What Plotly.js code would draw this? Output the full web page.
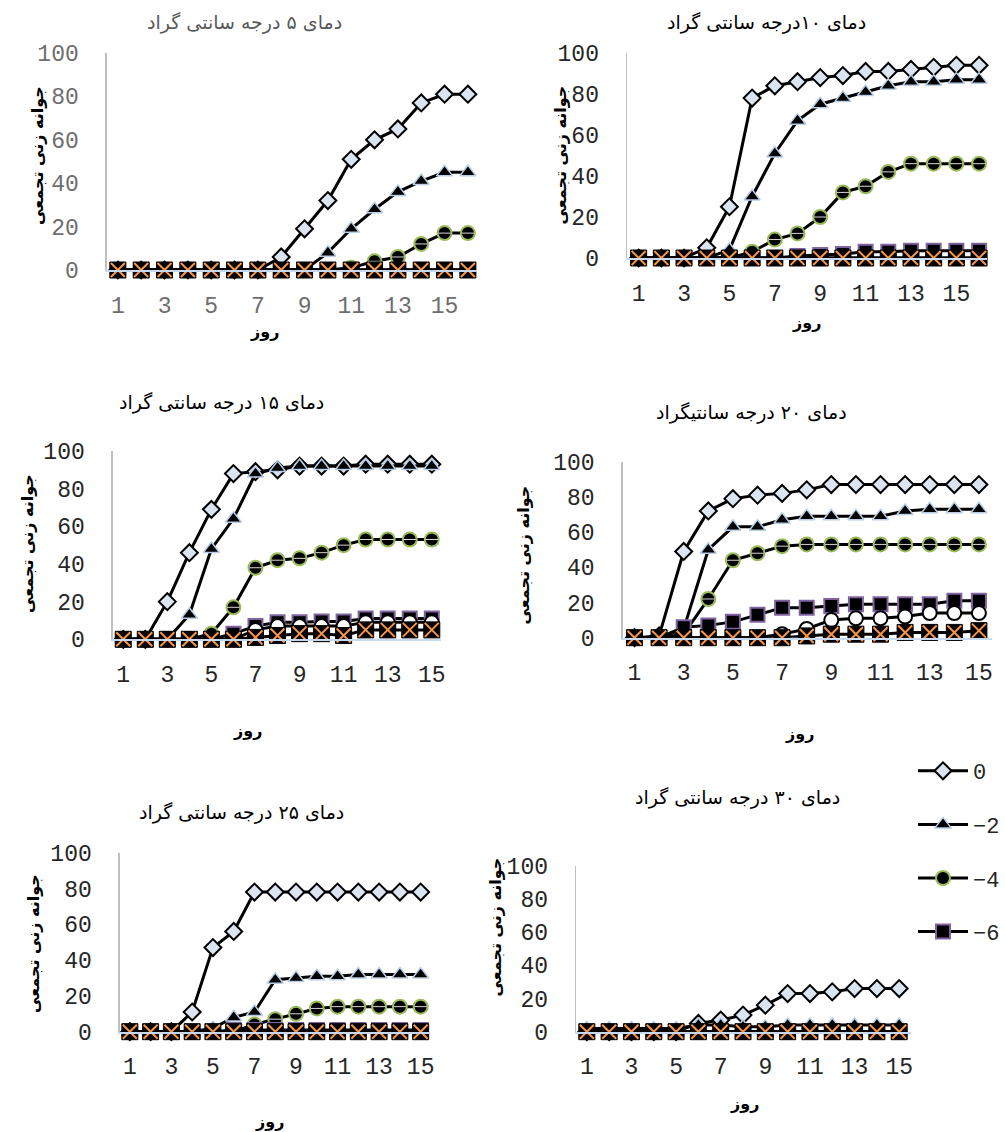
<!DOCTYPE html>
<html>
<head>
<meta charset="utf-8">
<script src="https://cdn.plot.ly/plotly-3.0.1.min.js"></script>
<style>html,body{margin:0;padding:0;background:#fff;}#chart{width:1005px;height:1132px;}</style>
</head>
<body>
<div id="chart"></div>
<script>
// ---------- data ----------
const days16 = [1,2,3,4,5,6,7,8,9,10,11,12,13,14,15,16];
const days15 = [1,2,3,4,5,6,7,8,9,10,11,12,13,14,15];
const xTickVals = [1,3,5,7,9,11,13,15];
const yTickVals = [0,20,40,60,80,100];
const seriesNames = ["0","−2","−4","−6","−8","−10"];

const panelTitles = [
  "دمای ۵ درجه سانتی گراد",
  "دمای ۱۰درجه سانتی گراد",
  "دمای ۱۵ درجه سانتی گراد",
  "دمای ۲۰ درجه سانتیگراد",
  "دمای ۲۵ درجه سانتی گراد",
  "دمای ۳۰ درجه سانتی گراد"
];
const xTitle = "روز";
const yTitle = "جوانه زنی تجمعی";

// 5 °C
const t5_0  = [0,0,0,0,0,0,0,6,19,32,51,60,65,77,81,81];
const t5_2  = [0,0,0,0,0,0,0,0,0,8,19,28,36,41,45,45];
const t5_4  = [0,0,0,0,0,0,0,0,0,0,1,4,6,12,17,17];
const t5_6  = [0,0,0,0,0,0,0,0,0,0,0,0,0,0,0,0];
const t5_8  = [0,0,0,0,0,0,0,0,0,0,0,0,0,0,0,0];
const t5_10 = [0,0,0,0,0,0,0,0,0,0,0,0,0,0,0,0];
// 10 °C
const t10_0  = [0,0,0,5,25,78,84,86,88,89,91,91,92,93,94,94];
const t10_2  = [0,0,0,0,4,30,51,67,75,78,81,84,86,86,87,87];
const t10_4  = [0,0,0,0,0,3,9,12,20,32,35,42,46,46,46,46];
const t10_6  = [0,0,0,0,0,0,0,1,1.5,2,3,3,3.5,3.5,3.5,3.5];
const t10_8  = [0,0,0,0,0,0,0,0,0,0,0,0,0,0,0,0];
const t10_10 = [0,0,0,0,0,0,0,0,0,0,0,0,0,0,0,0];
// 15 °C
const t15_0  = [0,0,20,46,69,88,89,90,92,92,92,93,93,93,93];
const t15_2  = [0,0,0,13,48,64,88,91,92,92,92,92,92,92,92];
const t15_4  = [0,0,0,0,3,17,38,42,43,46,50,53,53,53,53];
const t15_6  = [0,0,0,0,0,3,7,9,9,9.5,9.5,11,11,11,11];
const t15_8  = [0,0,0,0,0,0,5,7,7,7,7,9,9,9,9];
const t15_10 = [0,0,0,0,0,0,1,2,3,3,2,5,5,5,5];
// 20 °C
const t20_0  = [0,1,49,72,79,81,82,84,87,87,87,87,87,87,87];
const t20_2  = [0,0,5,50,63,63,67,69,69,69,69,72,73,73,73];
const t20_4  = [0,0,2,22,44,48,52,53,53,53,53,53,53,53,53];
const t20_6  = [0,0,6,7,9,13,17,17,18,19,19,19,19,21,21];
const t20_8  = [0,0,0,0,0,0,2,5,10,11,11,12,14,14,14];
const t20_10 = [0,0,0,0,0,0,0,1,2,2,2,3,3,3,4];
// 25 °C
const t25_0  = [0,0,0,11,47,56,78,78,78,78,78,78,78,78,78];
const t25_2  = [0,0,0,0,2,8,11,29,30,31,31,32,32,32,32];
const t25_4  = [0,0,0,0,0,0,4,7,10,13,14,14,14,14,14];
const t25_6  = [0,0,0,0,0,1,1,1,1,1,1,1,1,1,1];
const t25_8  = [0,0,0,0,0,0,0,0,0,0,0,0,0,0,0];
const t25_10 = [0,0,0,0,0,0,0,0,0,0,0,0,0,0,0];
// 30 °C
const t30_0  = [0,0,0,0,0,5,7,10,16,23,23,24,26,26,26];
const t30_2  = [2,2,2,2,2,4,4,3,3,4,4,4,4,4,4];
const t30_4  = [0,0,0,0,0,0,0,0,0,0,0,0,0,0,0];
const t30_6  = [0,0,0,0,0,0,0,0,0,0,0,0,0,0,0];
const t30_8  = [0,0,0,0,0,0,0,0,0,0,0,0,0,0,0];
const t30_10 = [0,0,0,0,0,0,0,0,0,0,0,0,0,0,0];

// ---------- layout geometry (pixels) ----------
const W = 1005, H = 1132;
const panels = [
  {x: days16, s:[t5_0,t5_2,t5_4,t5_6,t5_8,t5_10],       px:[107,477],   py:[53,270],     xr:[0.53,16.37], title:[245,22],  xt:[265,332],  yt:[38,155],  tc:'#6e6e6e', titleColor:'#595959'},
  {x: days16, s:[t10_0,t10_2,t10_4,t10_6,t10_8,t10_10], px:[627.7,988], py:[53,258],     xr:[0.49,16.35], title:[767,22],  xt:[807,322],  yt:[562,155], tc:'#262626', titleColor:'#000'},
  {x: days15, s:[t15_0,t15_2,t15_4,t15_6,t15_8,t15_10], px:[113,441.7], py:[451,639.3],  xr:[0.53,15.43], title:[222,402], xt:[248,730],  yt:[27,543],  tc:'#262626', titleColor:'#000'},
  {x: days15, s:[t20_0,t20_2,t20_4,t20_6,t20_8,t20_10], px:[623.3,992.7],py:[461.7,637.7],xr:[0.52,15.52], title:[752,413], xt:[800,733],  yt:[525,555], tc:'#262626', titleColor:'#000'},
  {x: days15, s:[t25_0,t25_2,t25_4,t25_6,t25_8,t25_10], px:[120,430],   py:[852.7,1031.7],xr:[0.52,15.43],title:[242,812], xt:[270,1121], yt:[33,943],  tc:'#262626', titleColor:'#000'},
  {x: days15, s:[t30_0,t30_2,t30_4,t30_6,t30_8,t30_10], px:[576.7,911.7],py:[865.7,1031.7],xr:[0.52,15.52],title:[738,797], xt:[745,1103], yt:[495,927], tc:'#262626', titleColor:'#000'}
];

// ---------- marker styles ----------
const styles = [
  {symbol:'diamond',     size:13, color:'#dbe5f1', line:{color:'#000', width:2}},
  {symbol:'triangle-up', size:14, color:'#000',    line:{color:'#b9cde5', width:1.5}},
  {symbol:'circle',      size:14, color:'#000',    line:{color:'#9bbb59', width:2}},
  {symbol:'square',      size:14, color:'#000',    line:{color:'#8064a2', width:2}},
  {symbol:'circle',      size:14, color:'#fff',    line:{color:'#000', width:2}},
  {symbol:'square',      size:16, color:'#000',    line:{color:'#000', width:1}}
];

const traces = [];
const layout = {
  width: W, height: H,
  margin: {l:0, r:0, t:0, b:0},
  paper_bgcolor: '#fff', plot_bgcolor: 'rgba(0,0,0,0)',
  showlegend: true,
  legend: {x: 914/W, y: 1 - 750/H, xanchor:'left', yanchor:'top',
           font:{family:'Liberation Mono, DejaVu Sans Mono, monospace', size:22, color:'#262626'},
           traceorder:'grouped', tracegroupgap: 22, itemwidth: 50, bgcolor:'rgba(0,0,0,0)'},
  annotations: []
};

panels.forEach((p, i) => {
  const n = i + 1;
  const xa = n === 1 ? 'x' : 'x' + n;
  const ya = n === 1 ? 'y' : 'y' + n;
  const xKey = n === 1 ? 'xaxis' : 'xaxis' + n;
  const yKey = n === 1 ? 'yaxis' : 'yaxis' + n;
  const tickFont = {family:'Liberation Mono, DejaVu Sans Mono, monospace', size:23, color:p.tc};
  layout[xKey] = {
    domain:[p.px[0]/W, p.px[1]/W], range:p.xr, anchor:ya,
    tickmode:'array', tickvals:xTickVals, ticks:'', showgrid:false, zeroline:false,
    showline:true, linecolor:'#c6d9f1', linewidth:2, tickfont:tickFont, ticklabelstandoff:13, fixedrange:true
  };
  layout[yKey] = {
    domain:[1 - p.py[1]/H, 1 - p.py[0]/H], range:[0,100], anchor:xa,
    tickmode:'array', tickvals:yTickVals, ticks:'', showgrid:false, zeroline:false,
    showline:true, linecolor:'#bfbfbf', linewidth:1.5, tickfont:tickFont, ticklabelstandoff:22, fixedrange:true
  };
  p.s.forEach((vals, k) => {
    const st = styles[k];
    traces.push({
      type:'scatter', mode:'lines+markers', x:p.x, y:vals, xaxis:xa, yaxis:ya,
      name: seriesNames[k], legendgroup: 'g' + k,
      showlegend: (i === 0 && k < 4),
      cliponaxis:false,
      line:{color:'#000', width:3},
      marker:{symbol:st.symbol, size:st.size, color:st.color, line:st.line}
    });
    if (k === 2) {
      traces.push({
        type:'scatter', mode:'markers', x:p.x, y:vals, xaxis:xa, yaxis:ya,
        showlegend:false, cliponaxis:false, hoverinfo:'skip',
        marker:{symbol:'line-ew-open', size:9, color:'#d9d9d9', line:{color:'#d9d9d9', width:1}}
      });
    }
    if (k === 5) {
      traces.push({
        type:'scatter', mode:'markers', x:p.x, y:vals, xaxis:xa, yaxis:ya,
        showlegend:false, cliponaxis:false, hoverinfo:'skip',
        marker:{symbol:'x-thin-open', size:14, color:'#f79646', line:{color:'#f79646', width:2}}
      });
    }
  });
  layout.annotations.push(
    {text:panelTitles[i], xref:'paper', yref:'paper', x:p.title[0]/W, y:1 - p.title[1]/H,
     xanchor:'center', yanchor:'middle', showarrow:false,
     font:{family:'DejaVu Sans', size:19, color:p.titleColor}},
    {text:'<b>' + xTitle + '</b>', xref:'paper', yref:'paper', x:p.xt[0]/W, y:1 - p.xt[1]/H,
     xanchor:'center', yanchor:'middle', showarrow:false,
     font:{family:'DejaVu Sans', size:16, color:'#000'}},
    {text:'<b>' + yTitle + '</b>', xref:'paper', yref:'paper', x:p.yt[0]/W, y:1 - p.yt[1]/H,
     xanchor:'center', yanchor:'middle', showarrow:false, textangle:-90,
     font:{family:'DejaVu Sans', size:16, color:'#000'}}
  );
});

Plotly.newPlot('chart', traces, layout, {displayModeBar:false, staticPlot:true});
</script>
</body>
</html>
